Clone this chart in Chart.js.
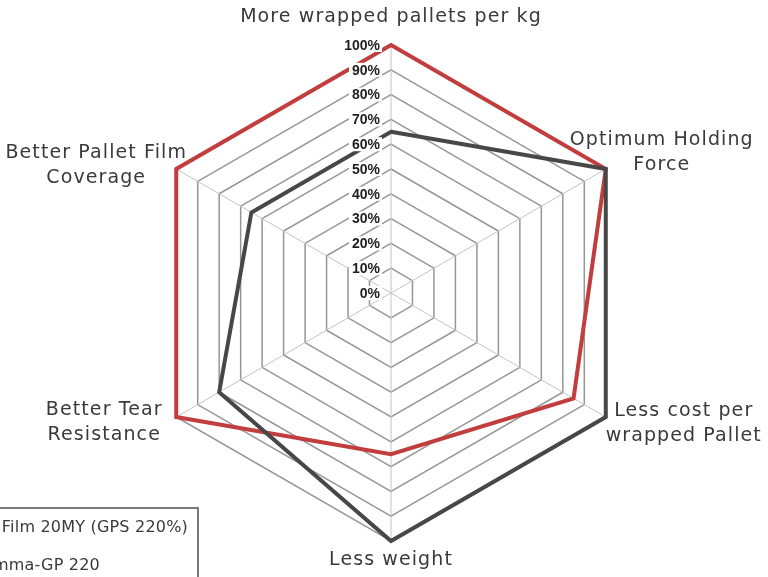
<!DOCTYPE html>
<html>
<head>
<meta charset="utf-8">
<script src="https://cdn.jsdelivr.net/npm/chart.js@4"></script>
<style>
    html, body { margin: 0; padding: 0; background: #fff; }
    #wrap { position: relative; width: 768px; height: 577px; overflow: hidden; }
    #legendBox { position: absolute; left: -80px; top: 507px; width: 279px; height: 110px; border: 2px solid #7a7a7a; box-sizing: border-box; }
    .legText { position: absolute; font: 16px "DejaVu Sans", sans-serif; letter-spacing: 0.2px; color: #3a3a3a; white-space: nowrap; line-height: 20px; }
</style>
</head>
<body>
<div id="wrap">
    <canvas id="myChart" width="768" height="577"></canvas>
    <div id="legendBox"></div>
    <span class="legText" style="right: 580px; top: 517px;">Stretch Film 20MY (GPS 220%)</span>
    <span class="legText" style="right: 668px; top: 555px;">Gamma-GP 220</span>
</div>
<script>
// axis categories (top, then clockwise)
const categories = [
    ['More wrapped pallets per kg'],
    ['Optimum Holding', 'Force'],
    ['Less cost per', 'wrapped Pallet'],
    ['Less weight'],
    ['Better Tear', 'Resistance'],
    ['Better Pallet Film', 'Coverage']
];

// series values in %
const filmValues = [65, 100, 100, 100, 80, 65];
const gammaValues = [100, 100, 85, 65, 100, 100];

const seriesNames = ['Stretch Film 20MY (GPS 220%)', 'Gamma-GP 220'];

// tick labels
const tickValues = [0, 10, 20, 30, 40, 50, 60, 70, 80, 90, 100];

document.addEventListener('DOMContentLoaded', function () {
    const ctx = document.getElementById('myChart').getContext('2d');

    // label placement relative to the 100% vertex of each axis
    const labelOffsets = [[0, -28], [56, -29], [78, -6], [0, 19], [-72, -7], [-80, -16]];

    const tickLabelPlugin = {
        id: 'tickLabels',
        afterDatasetsDraw(chart) {
            const r = chart.scales.r;
            const c = chart.ctx;
            c.save();
            c.font = 'bold 14px "Liberation Sans", sans-serif';
            c.textAlign = 'right';
            c.textBaseline = 'middle';
            const x = r.xCenter - 11;
            tickValues.forEach(v => {
                const y = r.yCenter - r.getDistanceFromCenterForValue(v);
                const text = v + '%';
                const w = c.measureText(text).width;
                c.fillStyle = '#fff';
                c.fillRect(x - w - 3, y - 7, w + 5, 14);
                c.fillStyle = '#1e1e1e';
                c.fillText(text, x, y + 1);
            });
            c.restore();
        }
    };

    const pointLabelPlugin = {
        id: 'axisTitles',
        afterDraw(chart) {
            const r = chart.scales.r;
            const c = chart.ctx;
            c.save();
            c.font = '19px "DejaVu Sans", sans-serif';
            c.letterSpacing = '1.1px';
            c.fillStyle = '#3a3a3a';
            c.textAlign = 'center';
            c.textBaseline = 'middle';
            categories.forEach((lines, i) => {
                const p = r.getPointPosition(i, r.drawingArea);
                const [dx, dy] = labelOffsets[i];
                lines.forEach((line, j) => c.fillText(line, p.x + dx, p.y + dy + j * 25));
            });
            c.restore();
        }
    };

    new Chart(ctx, {
        type: 'radar',
        data: {
            labels: categories,
            datasets: [{
                label: seriesNames[0],
                data: filmValues,
                borderColor: '#474747',
                borderWidth: 4,
                fill: false,
                pointRadius: 0,
                tension: 0
            }, {
                label: seriesNames[1],
                data: gammaValues,
                borderColor: '#c23d3d',
                borderWidth: 4,
                fill: false,
                pointRadius: 0,
                tension: 0
            }]
        },
        options: {
            responsive: false,
            animation: false,
            layout: {
                padding: { left: 14, right: 0, top: 45, bottom: 36 }
            },
            plugins: {
                legend: { display: false },
                tooltip: { enabled: false }
            },
            scales: {
                r: {
                    min: 0,
                    max: 100,
                    ticks: { stepSize: 10, display: false },
                    grid: { color: '#969696', lineWidth: 1.5 },
                    angleLines: { color: '#c4c4c4', lineWidth: 1 },
                    pointLabels: { display: false }
                }
            }
        },
        plugins: [tickLabelPlugin, pointLabelPlugin]
    });
});
</script>
</body>
</html>
